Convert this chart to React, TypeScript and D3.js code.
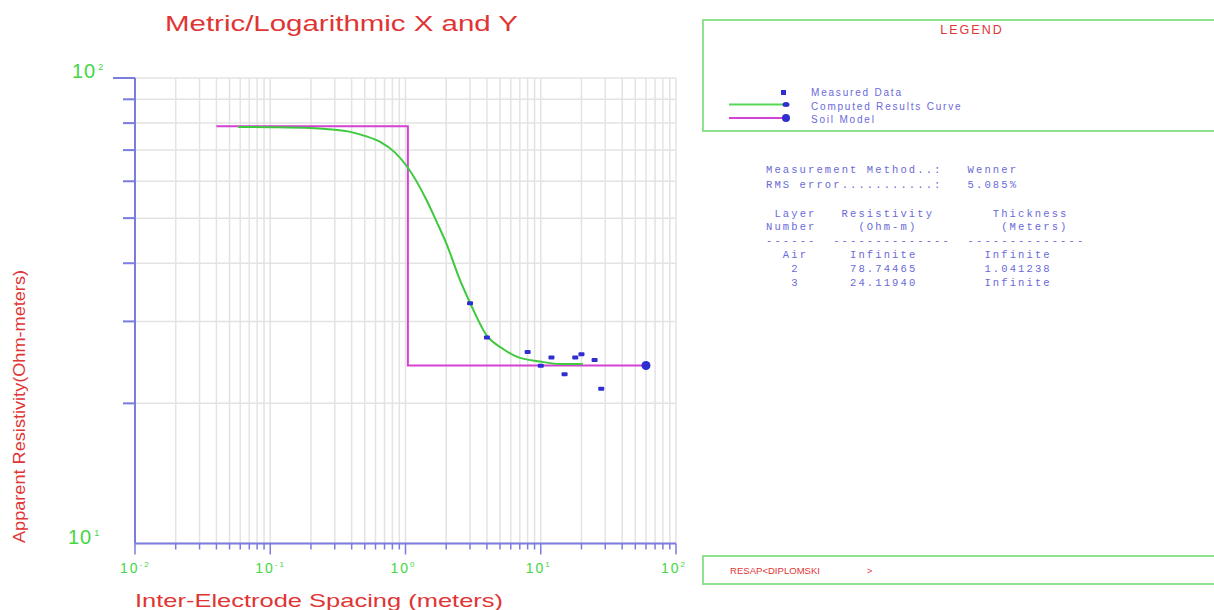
import React from "react";
import * as d3 from "d3";

// ---- data ----
const xDomain = [0.01, 100];
const yDomain = [10, 100];
const xTickExps = ["-2", "-1", "0", "1", "2"];
const yTickExps = ["1", "2"];

const spacingMeasured = [3, 4, 8, 10, 12, 15, 18, 20, 25, 28];
const rhoMeasured = [32.8, 27.7, 25.8, 24.1, 25.1, 23.1, 25.1, 25.5, 24.8, 21.5];

const spacingComputed = [0.058, 0.1, 0.2, 0.3, 0.39, 0.5, 0.65, 0.83, 1.02, 1.43, 1.7, 2.0, 2.53, 3.0, 3.98, 5.14, 6.64, 9.87, 13.9, 20.5];
const rhoComputed = [78.5, 78.4, 78.1, 77.4, 76.6, 75.1, 72.9, 69.3, 64.7, 54.7, 49.1, 44.2, 36.8, 32.9, 28.0, 26.3, 25.2, 24.6, 24.3, 24.3];

const layerResistivity = [78.74465, 24.1194];
const layerThickness = 1.041238;
const modelStart = 0.04;
const modelEnd = 60;

const legendLabels = ["Measured Data", "Computed Results Curve", "Soil Model"];

// table rows: [column, text]
const tableRows: [number, string][][] = [
  [[0, "Measurement Method..:"], [24, "Wenner"]],
  [[0, "RMS error...........:"], [24, "5.085%"]],
  [],
  [[1, "Layer"], [9, "Resistivity"], [27, "Thickness"]],
  [[0, "Number"], [11, "(Ohm-m)"], [28, "(Meters)"]],
  [[0, "------"], [8, "--------------"], [24, "--------------"]],
  [[2, "Air"], [10, "Infinite"], [26, "Infinite"]],
  [[3, "2"], [10, "78.74465"], [26, "1.041238"]],
  [[3, "3"], [10, "24.11940"], [26, "Infinite"]],
];
const tableBaselines = [173, 187.5, 0, 216.5, 230, 244, 257.5, 271.5, 285.5];

const x = d3.scaleLog().domain(xDomain).range([135, 676]);
const y = d3.scaleLog().domain(yDomain).range([543.5, 78]);

const AXIS = "#7b7be0";
const GRID = "#e3e3e3";
const GREEN_TXT = "#44d644";
const RED = "#e03535";
const BLUE = "#2f2fd0";
const TXT_BLUE = "#6a6ad8";
const SANS = "'Liberation Sans', Arial, sans-serif";
const MONO = "'Liberation Mono', 'Courier New', monospace";

export default function App() {
  const xTicks = x.ticks();
  const yTicks = y.ticks();
  const computedPts = spacingComputed.map((s, i) => [s, rhoComputed[i]] as [number, number]);
  const line = d3
    .line<[number, number]>()
    .x((d) => x(d[0]))
    .y((d) => y(d[1]))
    .curve(d3.curveMonotoneX);
  const stepLine = d3
    .line<[number, number]>()
    .x((d) => x(d[0]))
    .y((d) => y(d[1]));
  const modelPts: [number, number][] = [
    [modelStart, layerResistivity[0]],
    [layerThickness, layerResistivity[0]],
    [layerThickness, layerResistivity[1]],
    [modelEnd, layerResistivity[1]],
  ];
  const isMajor = (v: number) => Math.abs(Math.log10(v) - Math.round(Math.log10(v))) < 1e-9;

  return (
    <svg
      width={1214}
      height={610}
      style={{ position: "absolute", left: 0, top: 0, display: "block", background: "#fff" }}
    >
      {/* title */}
      <text x={165} y={31} fontFamily={SANS} fontSize={22} fill={RED} textLength={353} lengthAdjust="spacingAndGlyphs">
        Metric/Logarithmic X and Y
      </text>

      {/* grid */}
      {xTicks.map((t, i) => (
        <line key={"gx" + i} x1={x(t)} x2={x(t)} y1={y(100)} y2={y(10)} stroke={GRID} strokeWidth={1.5} />
      ))}
      {yTicks.map((t, i) => (
        <line key={"gy" + i} x1={x(0.01)} x2={x(100)} y1={y(t)} y2={y(t)} stroke={GRID} strokeWidth={1.5} />
      ))}

      {/* axes */}
      <line x1={135} x2={135} y1={y(100)} y2={y(10)} stroke={AXIS} strokeWidth={2} />
      <line x1={135} x2={x(100)} y1={y(10)} y2={y(10)} stroke={AXIS} strokeWidth={2} />
      {yTicks.map((t, i) =>
        t === 10 ? null : (
          <line
            key={"ty" + i}
            x1={isMajor(t) ? 113 : 123}
            x2={135}
            y1={y(t)}
            y2={y(t)}
            stroke={AXIS}
            strokeWidth={2}
          />
        )
      )}
      {xTicks.map((t, i) => (
        <line
          key={"tx" + i}
          x1={x(t)}
          x2={x(t)}
          y1={y(10)}
          y2={y(10) + (isMajor(t) ? 11 : 6)}
          stroke={AXIS}
          strokeWidth={1.5}
        />
      ))}

      {/* y tick labels */}
      {yTickExps.map((e, i) => {
        const v = Math.pow(10, +e);
        return (
          <text key={"yl" + i} x={i === 0 ? 68 : 72} y={y(v)} fontFamily={SANS} fontSize={20} fill={GREEN_TXT} letterSpacing={1}>
            10
            <tspan fontSize={9} dy={-8} dx={2}>
              {e}
            </tspan>
          </text>
        );
      })}
      {/* x tick labels */}
      {xTickExps.map((e, i) => {
        const v = Math.pow(10, +e);
        return (
          <text key={"xl" + i} x={x(v) - 15} y={573} fontFamily={SANS} fontSize={14} fill={GREEN_TXT} letterSpacing={2}>
            10
            <tspan fontSize={8} dy={-6} dx={0}>
              {e}
            </tspan>
          </text>
        );
      })}

      {/* axis labels */}
      <text x={135} y={607} fontFamily={SANS} fontSize={19} fill={RED} textLength={368} lengthAdjust="spacingAndGlyphs">
        Inter-Electrode Spacing (meters)
      </text>
      <text
        transform="translate(25,543) rotate(-90)"
        fontFamily={SANS}
        fontSize={16}
        fill={RED}
        textLength={273}
        lengthAdjust="spacingAndGlyphs"
      >
        Apparent Resistivity(Ohm-meters)
      </text>

      {/* soil model */}
      <path d={stepLine(modelPts) || ""} fill="none" stroke="#d342d3" strokeWidth={2} />
      <circle cx={x(modelEnd)} cy={y(layerResistivity[1])} r={4.5} fill={BLUE} />

      {/* computed curve */}
      <path d={line(computedPts) || ""} fill="none" stroke="#3ec93e" strokeWidth={2} />

      {/* measured */}
      {spacingMeasured.map((s, i) => (
        <rect key={"m" + i} x={x(s) - 3} y={y(rhoMeasured[i]) - 2} width={6} height={4} fill={BLUE} rx={1} />
      ))}

      {/* legend box */}
      <rect x={703} y={20} width={520} height={111} fill="none" stroke="#8fe38f" strokeWidth={2} />
      <text x={972} y={34} fontFamily={SANS} fontSize={12.5} fill={RED} textAnchor="middle" letterSpacing={2}>
        LEGEND
      </text>
      <rect x={781} y={90} width={5} height={5} fill={BLUE} />
      <line x1={729} x2={786} y1={104.5} y2={104.5} stroke="#55d855" strokeWidth={2} />
      <ellipse cx={786} cy={104.5} rx={3.5} ry={2.5} fill={BLUE} />
      <line x1={729} x2={786} y1={118} y2={118} stroke="#d342d3" strokeWidth={2} />
      <circle cx={786} cy={118} r={4} fill={BLUE} />
      {legendLabels.map((l, i) => (
        <text key={"lg" + i} x={811} y={96 + i * 13.5} fontFamily={SANS} fontSize={10} fill={TXT_BLUE} letterSpacing={1.8}>
          {l}
        </text>
      ))}

      {/* table */}
      {tableRows.map((row, ri) =>
        row.map(([c, t], ci) => (
          <text
            key={"t" + ri + "_" + ci}
            x={766 + c * 8.4}
            y={tableBaselines[ri]}
            fontFamily={MONO}
            fontSize={10.5}
            fill={TXT_BLUE}
            textLength={t.length * 8.4 - 2}
            lengthAdjust="spacing"
          >
            {t}
          </text>
        ))
      )}

      {/* bottom box */}
      <rect x={703} y={556} width={520} height={28} fill="none" stroke="#8fe38f" strokeWidth={2} />
      <text x={730} y={574} fontFamily={SANS} fontSize={9} fill={RED} textLength={90} lengthAdjust="spacingAndGlyphs">
        RESAP&lt;DIPLOMSKI
      </text>
      <text x={867} y={574} fontFamily={SANS} fontSize={9} fill={RED}>
        &gt;
      </text>
    </svg>
  );
}
